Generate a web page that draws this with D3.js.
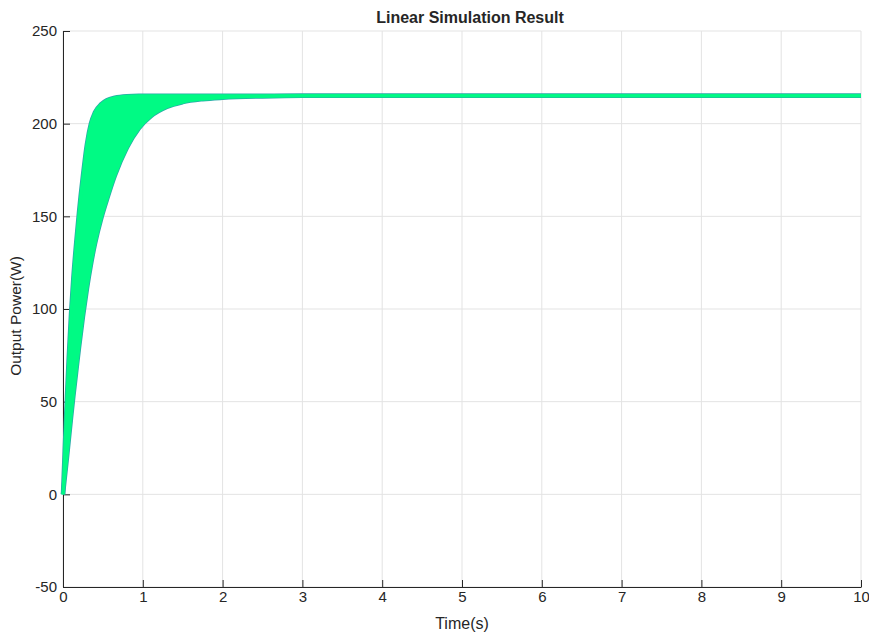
<!DOCTYPE html>
<html>
<head>
<meta charset="utf-8">
<script src="https://cdn.jsdelivr.net/npm/d3@7"></script>
<style>
  body { margin: 0; background: #fff; }
  text { font-family: "Liberation Sans", Arial, sans-serif; fill: #262626; }
</style>
</head>
<body>
<svg id="chart" width="869" height="636"></svg>
<script>
// values
var timeS = [0, 0.02, 0.035, 0.05, 0.07, 0.1, 0.13, 0.17, 0.2, 0.25, 0.3, 0.35, 0.4, 0.48, 0.55, 0.65, 0.8, 0.95, 1.1, 1.3, 1.5, 1.75, 2.0, 2.5, 3.0, 4, 6, 8, 10];
// fastest response (upper / left edge of the band)
var fastPower = [0, 22, 38, 53, 72, 97, 117, 138, 152, 172, 189, 200, 206, 210.5, 212.6, 214, 214.8, 215, 215, 215, 215, 215, 215, 215, 215, 215, 215, 215, 215];
// slowest response (lower / right edge of the band)
var slowPower = [0, 8, 14, 20, 28.5, 41, 53, 68, 79, 96, 111, 124, 135, 149, 159, 172, 187, 197.5, 204, 209, 211.6, 213.2, 214, 214.7, 215, 215, 215, 215, 215];
var xTicks = [0, 1, 2, 3, 4, 5, 6, 7, 8, 9, 10];
var yTicks = [-50, 0, 50, 100, 150, 200, 250];

var margin = { top: 31, right: 8, bottom: 49, left: 63 },
  width = 869 - margin.left - margin.right,
  height = 636 - margin.top - margin.bottom;

var svg = d3.select("#chart");
var g = svg.append("g").attr("transform", "translate(" + margin.left + "," + margin.top + ")");

var x = d3.scaleLinear().domain([0, 10]).range([0, width]);
var y = d3.scaleLinear().domain([-50, 250]).range([height, 0]);

//grid
g.append("g")
  .selectAll("line")
  .data(xTicks)
  .enter()
  .append("line")
  .attr("x1", function(d) { return x(d); })
  .attr("x2", function(d) { return x(d); })
  .attr("y1", 0)
  .attr("y2", height)
  .attr("stroke", "#e3e3e3")
  .attr("stroke-width", 1);
g.append("g")
  .selectAll("line")
  .data(yTicks)
  .enter()
  .append("line")
  .attr("x1", 0)
  .attr("x2", width)
  .attr("y1", function(d) { return y(d); })
  .attr("y2", function(d) { return y(d); })
  .attr("stroke", "#e3e3e3")
  .attr("stroke-width", 1);

//axes (matlab style, ticks pointing inwards, plain hyphen minus)
var fmt = function(d) { return String(d); };
var xAxis = g.append("g")
  .attr("transform", "translate(0," + height + ")")
  .call(d3.axisBottom(x).tickValues(xTicks).tickFormat(fmt).tickSizeInner(-7).tickSizeOuter(0).tickPadding(13));
var yAxis = g.append("g")
  .call(d3.axisLeft(y).tickValues(yTicks).tickFormat(fmt).tickSizeInner(-7).tickSizeOuter(0).tickPadding(13));
[xAxis, yAxis].forEach(function(a) {
  a.select(".domain").attr("stroke", "#262626");
  a.selectAll(".tick line").attr("stroke", "#262626");
  a.selectAll(".tick text")
    .attr("font-family", "Liberation Sans, Arial, sans-serif")
    .attr("font-size", 15)
    .attr("fill", "#262626");
});
yAxis.selectAll(".tick text").attr("x", -6);
xAxis.selectAll(".tick text").attr("y", 4).attr("dy", "0.71em");

//response band
var rows = timeS.map(function(t, i) {
  return { t: t, fast: fastPower[i], slow: slowPower[i] };
});
var area = d3.area()
  .curve(d3.curveMonotoneX)
  .x(function(d) { return x(d.t); })
  .y0(function(d) { return y(d.slow); })
  .y1(function(d) { return y(d.fast); });
var fastLine = d3.line()
  .curve(d3.curveMonotoneX)
  .x(function(d) { return x(d.t); })
  .y(function(d) { return y(d.fast); });
var slowLine = d3.line()
  .curve(d3.curveMonotoneX)
  .x(function(d) { return x(d.t); })
  .y(function(d) { return y(d.slow); });

var band = g.append("g");
// teal outer curves of the colormap
[fastLine, slowLine].forEach(function(l) {
  band.append("path")
    .attr("d", l(rows))
    .attr("fill", "none")
    .attr("stroke", "#2aa9a8")
    .attr("stroke-width", 4.5)
    .attr("stroke-linejoin", "round");
});
band.append("path")
  .attr("d", area(rows))
  .attr("fill", "#00fa84");
[fastLine, slowLine].forEach(function(l) {
  band.append("path")
    .attr("d", l(rows))
    .attr("fill", "none")
    .attr("stroke", "#00fa84")
    .attr("stroke-width", 3)
    .attr("stroke-linejoin", "round");
});

//labels
svg.append("text")
  .attr("x", 470)
  .attr("y", 23)
  .attr("text-anchor", "middle")
  .attr("font-size", 16)
  .attr("font-weight", "bold")
  .attr("fill", "#000")
  .text("Linear Simulation Result");
svg.append("text")
  .attr("x", margin.left + width / 2)
  .attr("y", 629)
  .attr("text-anchor", "middle")
  .attr("font-size", 16)
  .text("Time(s)");
svg.append("text")
  .attr("transform", "translate(21," + 316 + ") rotate(-90)")
  .attr("text-anchor", "middle")
  .attr("font-size", 15.5)
  .text("Output Power(W)");
</script>
</body>
</html>
